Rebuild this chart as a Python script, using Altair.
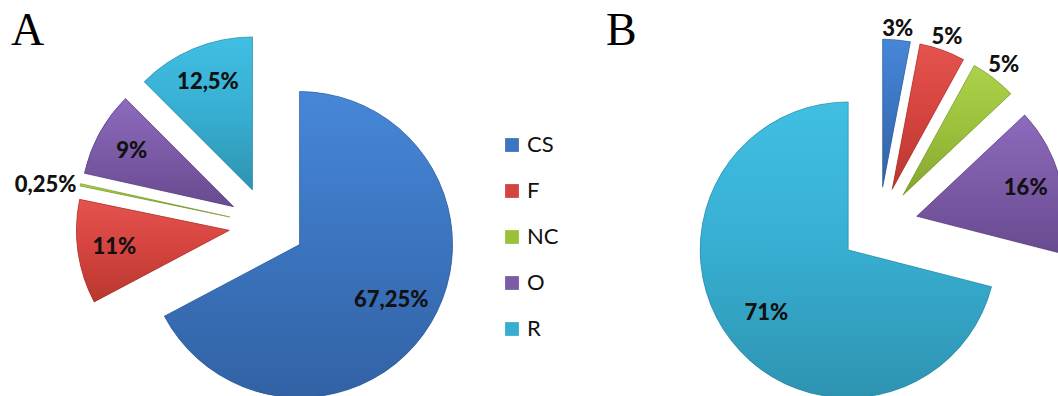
import altair as alt
import pandas as pd

# Shares (%) per category for the two pies
categories = ["CS", "F", "NC", "O", "R"]
share_a = [67.25, 11, 0.25, 9, 12.5]
share_b = [3, 5, 5, 16, 71]
panels = ["A", "B"]

# Office-style palette: flat colour for the legend, light/dark ends for the slice shading
base_colors = ["#3b74bf", "#d4433e", "#9bc03c", "#7b5aa6", "#37aed1"]
light_colors = ["#4787d8", "#e4534e", "#acd24b", "#8d6bbd", "#40bfe3"]
dark_colors = ["#3262a4", "#b8372f", "#85a52f", "#684b90", "#2e93b1"]
edge_colors = ["#2c5690", "#9c2e28", "#718d28", "#573f7a", "#27809b"]

rows = []
for panel, shares in zip(panels, [share_a, share_b]):
    for i, (cat, v) in enumerate(zip(categories, shares)):
        rows.append({"panel": panel, "category": cat, "value": v, "order": i})
df = pd.DataFrame(rows)

# Slice geometry: angles from a running sum, each slice pulled out along its bisector
base = (
    alt.Chart(df)
    .transform_window(
        cum="sum(value)", groupby=["panel"],
        sort=[alt.SortField("order")], frame=[None, 0],
    )
    .transform_joinaggregate(total="sum(value)", groupby=["panel"])
    .transform_calculate(
        t1="2*PI*(datum.cum - datum.value)/datum.total",
        t2="2*PI*datum.cum/datum.total",
        label="replace(toString(datum.value), '.', ',') + '%'",
    )
    .transform_calculate(
        mid="(datum.t1 + datum.t2)/2",
        cx="datum.panel == 'A' ? 267 : 879",
        cy="datum.panel == 'A' ? 225 : 226",
        r="datum.panel == 'A' ? 153 : 148",
        d="datum.panel == 'A' ? 38 : 39",
    )
    .transform_calculate(
        ax="datum.cx + datum.d*sin(datum.mid)",
        ay="datum.cy - datum.d*cos(datum.mid)",
        lr="datum.value/datum.total < 0.06 ? datum.r + 10 + 5.2*length(datum.label)*abs(sin(datum.mid)) : (datum.value/datum.total > 0.5 ? 0.7 : 0.76)*datum.r",
    )
    .transform_calculate(
        lx="datum.ax + datum.lr*sin(datum.mid)",
        ly="datum.ay - datum.lr*cos(datum.mid) + (datum.value/datum.total < 0.01 ? 8 : 0)",
    )
)

arc_enc = dict(
    x=alt.X("ax:Q", scale=None, axis=None),
    y=alt.Y("ay:Q", scale=None, axis=None),
    theta=alt.Theta("t1:Q", scale=None, stack=None),
    theta2="t2:Q",
    radius=alt.Radius("r:Q", scale=None),
)

flat = base.mark_arc().encode(
    color=alt.Color(
        "category:N",
        scale=alt.Scale(domain=categories, range=base_colors),
        legend=alt.Legend(
            title=None, orient="none", legendX=501, legendY=134,
            symbolType="square", symbolSize=190, symbolStrokeWidth=0,
            labelFont="Lato", labelFontSize=22, labelColor="#111",
            labelOffset=4, rowPadding=24, padding=0,
        ),
    ),
    **arc_enc,
)

shaded = []
for i, cat in enumerate(categories):
    grad = alt.Gradient(
        gradient="linear",
        stops=[
            alt.GradientStop(color=light_colors[i], offset=0),
            alt.GradientStop(color=base_colors[i], offset=0.5),
            alt.GradientStop(color=dark_colors[i], offset=1),
        ],
        x1=0, y1=0, x2=0, y2=1,
    )
    shaded.append(
        base.transform_filter(alt.datum.category == cat)
        .mark_arc(fill=grad, stroke=edge_colors[i], strokeWidth=1, strokeOpacity=0.55)
        .encode(**arc_enc)
    )

labels = base.mark_text(
    font="Lato", fontWeight=900, fontSize=22, color="#111",
    align="center", baseline="middle",
).encode(
    x=alt.X("lx:Q", scale=None, axis=None),
    y=alt.Y("ly:Q", scale=None, axis=None),
    text="label:N",
)

titles = (
    alt.Chart(pd.DataFrame({"panel": panels}))
    .transform_calculate(
        tx="datum.panel == 'A' ? 11 : 606",
        ty="45",
    )
    .mark_text(font="Liberation Serif", fontSize=46, color="#000",
               align="left", baseline="alphabetic")
    .encode(
        x=alt.X("tx:Q", scale=None, axis=None),
        y=alt.Y("ty:Q", scale=None, axis=None),
        text="panel:N",
    )
)

chart = (
    alt.layer(flat, *shaded, labels, titles)
    .properties(width=1058, height=396, padding=0, autosize="none")
    .configure_view(stroke=None)
)

chart.save("out.html", embed_options={"renderer": "svg", "actions": False})
